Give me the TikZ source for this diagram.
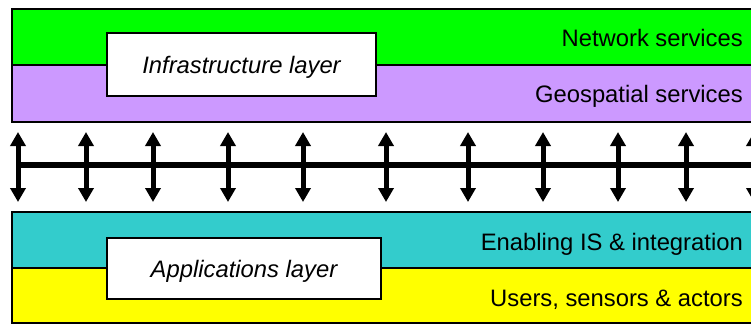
\documentclass[tikz,border=0pt]{standalone}
\usepackage{fontspec}
\setmainfont{Liberation Sans}
\usetikzlibrary{arrows.meta}
\definecolor{netgreen}{HTML}{00FF00}
\definecolor{geopurple}{HTML}{CC99FF}
\definecolor{encyan}{HTML}{33CCCC}
\definecolor{usryellow}{HTML}{FFFF00}
\tikzset{
  band/.style={draw=black, line width=1.5pt, anchor=north west, minimum width=760pt, inner sep=0pt, outer sep=0pt},
  bandlabel/.style={anchor=base east, inner sep=0pt, font=\fontsize{23.8}{26}\selectfont},
  layerbox/.style={draw=black, line width=1.2pt, fill=white, inner sep=0pt, text height=17pt, text depth=0pt, font=\fontsize{23.8}{26}\selectfont\itshape},
  busarrow/.style={line width=5pt, {Triangle[width=15pt,length=14pt]}-{Triangle[width=15pt,length=14pt]}},
  busline/.style={line width=5.5pt}
}
\begin{document}
\begin{tikzpicture}[x=1pt,y=-1pt]
\useasboundingbox (0,0) rectangle (751,325);
% top block
\node[band, fill=netgreen, minimum height=56pt] (net) at (12,9) {};
\node[band, fill=geopurple, minimum height=57pt] (geo) at (12,65) {};
\node[bandlabel] (netl) at (743,46) {Network services};
\node[bandlabel] (geol) at (743,102) {Geospatial services};
\node[layerbox, minimum width=269pt, minimum height=63pt] (infra) at (241.5,64.5) {Infrastructure layer};
% bottom block
\node[band, fill=encyan, minimum height=56pt] (ena) at (12,212) {};
\node[band, fill=usryellow, minimum height=55pt] (usr) at (12,268) {};
\node[bandlabel] (enal) at (743,250) {Enabling IS \& integration};
\node[bandlabel] (usrl) at (743,306) {Users, sensors \& actors};
\node[layerbox, minimum width=274pt, minimum height=61pt] (appl) at (244,268.5) {Applications layer};
% bus
\coordinate (busL) at (18,165);
\coordinate (busR) at (760,165);
\draw[busline] (busL) -- (busR);
\foreach \i/\x in {1/18,2/86,3/153,4/228,5/303,6/386,7/468,8/543,9/618,10/686,11/754}{
  \coordinate (t\i) at (\x,132);
  \coordinate (b\i) at (\x,202);
  \draw[busarrow] (t\i) -- (b\i);
}
\end{tikzpicture}
\end{document}
